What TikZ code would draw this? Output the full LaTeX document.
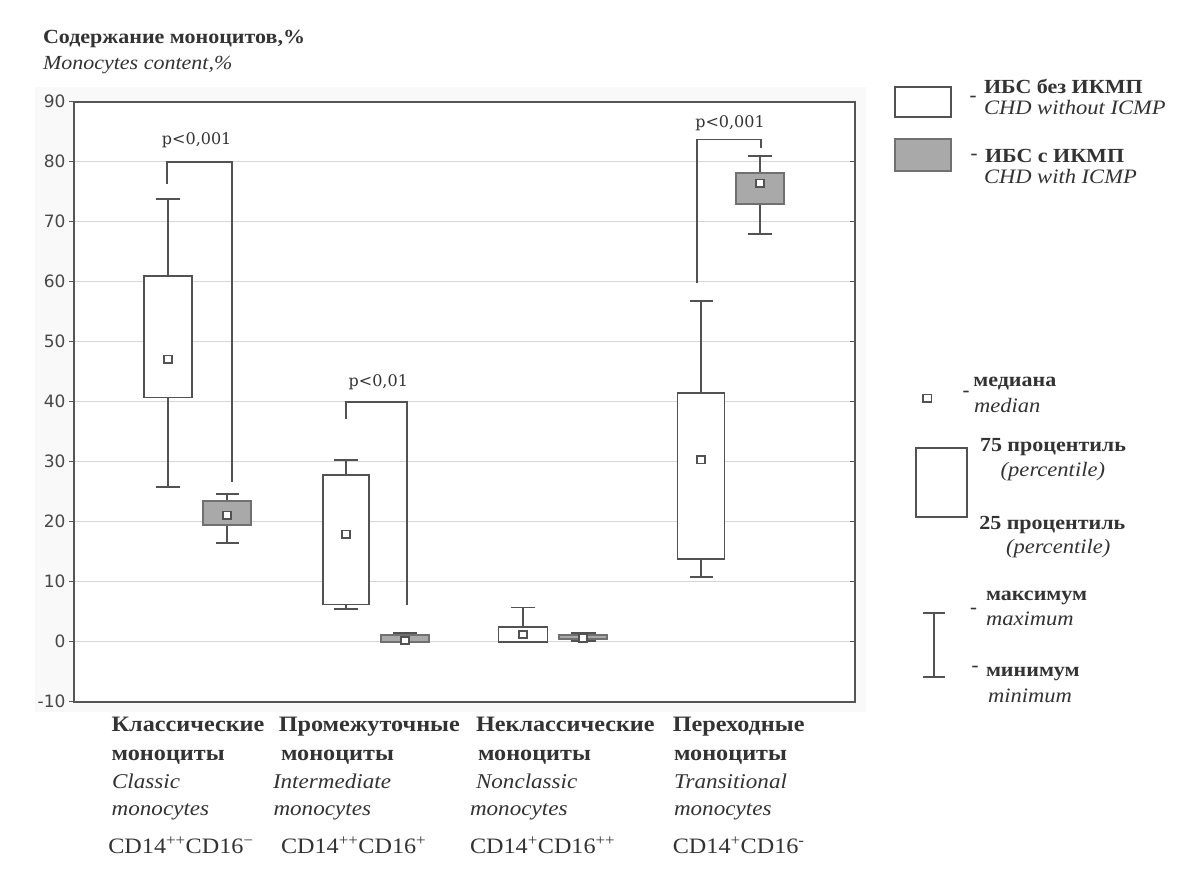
\documentclass[tikz,border=0pt]{standalone}
\usepackage{fontspec}
\setmainfont{Liberation Serif}[FakeStretch=1.1]
\newfontfamily\axfont{DejaVu Sans}
\newfontfamily\pfont{DejaVu Serif}
\definecolor{ink}{HTML}{333333}
\definecolor{framec}{HTML}{555555}
\definecolor{gridc}{HTML}{D6D6D6}
\definecolor{boxfill}{HTML}{A9A9A9}
\definecolor{panel}{HTML}{F9F9F9}
\tikzset{
  txt/.style={inner sep=0pt, outer sep=0pt, text=ink, anchor=base west},
  ttlb/.style={txt, font=\fontsize{20}{20}\selectfont\bfseries},
  ttli/.style={txt, font=\fontsize{20}{20}\selectfont\itshape},
  xlb/.style={txt, font=\fontsize{22}{22}\selectfont\bfseries},
  xli/.style={txt, font=\fontsize{21}{21}\selectfont\itshape},
  xlc/.style={txt, font=\fontsize{22}{22}\selectfont},
  lgb/.style={txt, font=\fontsize{20}{20}\selectfont\bfseries},
  lgi/.style={txt, font=\fontsize{20.5}{20.5}\selectfont\itshape},
  dashtxt/.style={inner sep=0pt, outer sep=0pt, text=ink, font=\fontsize{19}{19}\selectfont\bfseries},
  ylab/.style={inner sep=0pt, outer sep=0pt, anchor=east, text=ink!90, font=\axfont\fontsize{17}{17}\selectfont},
  plab/.style={inner sep=0pt, outer sep=0pt, text=ink, font=\pfont\fontsize{16}{16}\selectfont},
  frm/.style={draw=framec, line width=2pt},
  gridl/.style={draw=gridc, line width=1pt},
  tick/.style={draw=framec, line width=1.2pt},
  whisk/.style={draw=ink!85, line width=1.7pt},
  wbox/.style={draw=ink!85, line width=1.7pt, fill=white},
  gbox/.style={draw=ink!70, line width=1.7pt, fill=boxfill},
  brk/.style={draw=ink!85, line width=1.9pt},
  medsq/.style={draw=ink!85, line width=1.6pt, fill=white, rectangle, minimum width=8.5pt, minimum height=7.5pt, inner sep=0pt},
}
\newcommand\bxp[9]{%
  \draw[whisk] (#1,#4) -- (#1,#5) (#1,#7) -- (#1,#8)
    ({#1-#3},#4) -- ({#1+#3},#4) ({#1-#3},#8) -- ({#1+#3},#8);
  \draw[#9] ({#1-#2},#5) rectangle ({#1+#2},#7);
  \node[medsq] (med#1) at (#1,#6) {};
}
\begin{document}
\begin{tikzpicture}[x=1pt,y=-1pt]
\useasboundingbox (0,0) rectangle (1200,874);
\fill[white] (0,0) rectangle (1200,874);
\fill[panel] (35,87) rectangle (866,712);
% title
\node[ttlb] (t1) at (43,44) {Содержание моноцитов,\%};
\node[ttli] (t2) at (43,69.3) {Monocytes content,\%};
% plot
\begin{scope}[shift={(0,641.7)}, y=6pt]
  \fill[white] (74.3,-10) rectangle (855,90);
  \foreach \v in {0,10,...,80} \draw[gridl] (74.3,\v) -- (855,\v);
  \foreach \v in {-10,0,...,90} {
    \draw[tick] (69,\v) -- (74.3,\v);
    \draw[tick] (850,\v) -- (855,\v);
    \node[ylab] (yl\v) at (65.5,\v) {\v};
  }
  \draw[frm] (74.3,-10) rectangle (855,90);
  % box plots: xc, half width, cap half, min, q1, med, q3, max, style
  \bxp{168}{23.7}{11.8}{25.8}{40.7}{47.1}{60.9}{73.8}{wbox}
  \bxp{227}{23.8}{11.5}{16.5}{19.4}{21.1}{23.5}{24.6}{gbox}
  \bxp{346}{23.3}{12}{5.4}{6.2}{17.9}{27.8}{30.3}{wbox}
  \bxp{405}{24.3}{11.8}{0}{0}{0.2}{1.1}{1.4}{gbox}
  \bxp{523}{24.5}{12.3}{0}{0}{1.2}{2.5}{5.7}{wbox}
  \bxp{583}{23.8}{12.5}{0.1}{0.5}{0.6}{1.1}{1.5}{gbox}
  \bxp{701}{23.5}{11.5}{10.8}{13.8}{30.3}{41.4}{56.8}{wbox}
  \bxp{760}{23.8}{11.7}{67.9}{73.0}{76.4}{78.1}{81.0}{gbox}
  % significance brackets
  \draw[brk] (166.7,76.3) -- (166.7,80) -- (232,80) -- (232,26.6);
  \node[plab] (p1) at (196.7,83.5) {p<0,001};
  \draw[brk] (346,37.1) -- (346,40) -- (406.7,40) -- (406.7,6.1);
  \node[plab] (p2) at (378.3,43.2) {p<0,01};
  \draw[brk] (697.3,59.8) -- (697.3,83.7) -- (760.7,83.7) -- (760.7,82.2);
  \node[plab] (p3) at (730,86.4) {p<0,001};
\end{scope}
% x labels
\node[xlb] (c1a) at (111.7,731.7) {Классические};
\node[xlb] (c1b) at (111.7,760) {моноциты};
\node[xli] (c1c) at (112,788.3) {Classic};
\node[xli] (c1d) at (111.7,815) {monocytes};
\node[xlc] (c1e) at (108.3,853.3) {CD14\textsuperscript{++}CD16\textsuperscript{−}};
\node[xlb] (c2a) at (278.8,731.7) {Промежуточные};
\node[xlb] (c2b) at (281,760) {моноциты};
\node[xli] (c2c) at (273,788.3) {Intermediate};
\node[xli] (c2d) at (273.5,815) {monocytes};
\node[xlc] (c2e) at (281,853.3) {CD14\textsuperscript{++}CD16\textsuperscript{+}};
\node[xlb] (c3a) at (476,731.7) {Неклассические};
\node[xlb] (c3b) at (478,760) {моноциты};
\node[xli] (c3c) at (476,788.3) {Nonclassic};
\node[xli] (c3d) at (470,815) {monocytes};
\node[xlc] (c3e) at (470,853.3) {CD14\textsuperscript{+}CD16\textsuperscript{++}};
\node[xlb] (c4a) at (672.8,731.7) {Переходные};
\node[xlb] (c4b) at (674,760) {моноциты};
\node[xli] (c4c) at (674,788.3) {Transitional};
\node[xli] (c4d) at (674,815) {monocytes};
\node[xlc] (c4e) at (672.8,853.3) {CD14\textsuperscript{+}CD16\textsuperscript{-}};
% legend: groups
\draw[wbox] (895,86.7) rectangle (951,116.7);
\draw[gbox] (895,139) rectangle (951,170.7);
\node[dashtxt] (d1) at (973,99) {-};
\node[lgb] (l1a) at (984,94) {ИБС без ИКМП};
\node[lgi] (l1b) at (984,115) {CHD without ICMP};
\node[dashtxt] (d2) at (974,157) {-};
\node[lgb] (l2a) at (985,162.7) {ИБС с ИКМП};
\node[lgi] (l2b) at (984,183.3) {CHD with ICMP};
% legend: elements
\node[medsq] (lm) at (927.3,398.3) {};
\node[dashtxt] (d3) at (966,394) {-};
\node[lgb] (l3a) at (973.3,386.7) {медиана};
\node[lgi] (l3b) at (974,412.7) {median};
\draw[wbox] (916,448.3) rectangle (967.3,516.7);
\node[lgb] (l4a) at (980,451.7) {75 процентиль};
\node[lgi] (l4b) at (1000.7,476.7) {(percentile)};
\node[lgb] (l5a) at (979.3,529.3) {25 процентиль};
\node[lgi] (l5b) at (1006,553.3) {(percentile)};
\draw[whisk] (934.3,612.7) -- (934.3,676.7) (923.3,612.7) -- (945,612.7) (923.3,676.7) -- (945,676.7);
\node[lgb] (l6a) at (986,600) {максимум};
\node[dashtxt] (d4) at (973.7,611) {-};
\node[lgi] (l6b) at (986,625) {maximum};
\node[dashtxt] (d5) at (975,669) {-};
\node[lgb] (l7a) at (986,676.7) {минимум};
\node[lgi] (l7b) at (988,702) {minimum};
\end{tikzpicture}
\end{document}
